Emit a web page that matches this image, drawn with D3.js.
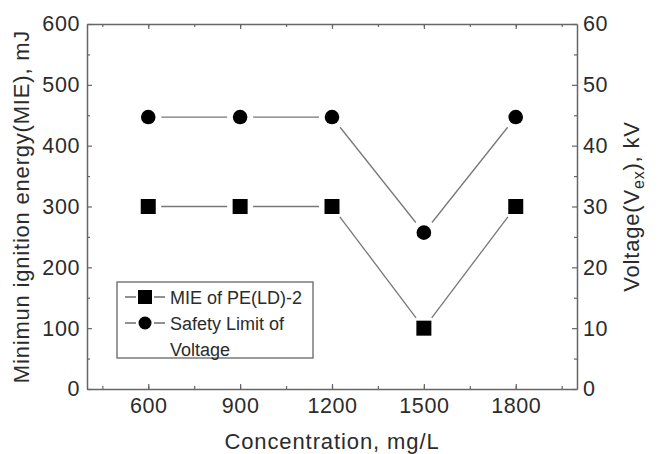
<!DOCTYPE html>
<html>
<head>
<meta charset="utf-8">
<script src="https://cdn.jsdelivr.net/npm/d3@7"></script>
<style>
  body { margin: 0; background: #fff; }
  text { font-family: "Liberation Sans", Arial, sans-serif; fill: #2b2b2b; }
</style>
</head>
<body>
<svg id="chart"></svg>
<script>
// data
const concentrations = [600, 900, 1200, 1500, 1800];
const mieValues = [300, 300, 300, 100, 300];          // mJ, left axis
const voltageValues = [44.7, 44.7, 44.7, 25.7, 44.7]; // kV, right axis
const xTicks = [600, 900, 1200, 1500, 1800];
const leftTicks = [0, 100, 200, 300, 400, 500, 600];
const rightTicks = [0, 10, 20, 30, 40, 50, 60];
const legendLabels = ["MIE of PE(LD)-2", ["Safety Limit of", "Voltage"]];

const width = 659, height = 454;
const plot = { left: 87, right: 577, top: 24, bottom: 389 };
const axisColor = "#666";
const lineColor = "#777";

const svg = d3.select("#chart")
    .attr("width", width)
    .attr("height", height);

const x = d3.scaleLinear().domain([400, 2000]).range([plot.left, plot.right]);
const yL = d3.scaleLinear().domain([0, 600]).range([plot.bottom, plot.top]);
const yR = d3.scaleLinear().domain([0, 60]).range([plot.bottom, plot.top]);
const fmt = d3.format("d");

function styleAxis(g) {
    g.selectAll(".domain").attr("stroke", axisColor).attr("stroke-width", 1.5);
    g.selectAll(".tick line").attr("stroke", axisColor).attr("stroke-width", 1.2);
    g.selectAll(".tick text").attr("font-size", 21.5).attr("fill", "#2b2b2b")
        .attr("letter-spacing", 0.6)
        .style("font-family", "'Liberation Sans', Arial, sans-serif");
}

const minorX = d3.range(450, 2000, 150);
const minorL = d3.range(50, 600, 100);
const minorR = d3.range(5, 60, 10);

// minor ticks (inward)
svg.append("g").attr("transform", `translate(0,${plot.bottom})`)
    .call(d3.axisBottom(x).tickValues(minorX).tickFormat("").tickSize(-3))
    .call(g => g.select(".domain").remove()).call(styleAxis);
svg.append("g").attr("transform", `translate(0,${plot.top})`)
    .call(d3.axisTop(x).tickValues(minorX).tickFormat("").tickSize(-3))
    .call(g => g.select(".domain").remove()).call(styleAxis);
svg.append("g").attr("transform", `translate(${plot.left},0)`)
    .call(d3.axisLeft(yL).tickValues(minorL).tickFormat("").tickSize(-3))
    .call(g => g.select(".domain").remove()).call(styleAxis);
svg.append("g").attr("transform", `translate(${plot.right},0)`)
    .call(d3.axisRight(yR).tickValues(minorR).tickFormat("").tickSize(-3))
    .call(g => g.select(".domain").remove()).call(styleAxis);

// major axes
svg.append("g").attr("transform", `translate(0,${plot.bottom})`)
    .call(d3.axisBottom(x).tickValues(xTicks).tickFormat(fmt).tickSize(-5).tickSizeOuter(0).tickPadding(9))
    .call(styleAxis);
svg.append("g").attr("transform", `translate(0,${plot.top})`)
    .call(d3.axisTop(x).tickValues(xTicks).tickFormat("").tickSize(-5).tickSizeOuter(0))
    .call(styleAxis);
svg.append("g").attr("transform", `translate(${plot.left},0)`)
    .call(d3.axisLeft(yL).tickValues(leftTicks).tickFormat(fmt).tickSize(-5).tickSizeOuter(0).tickPadding(7))
    .call(styleAxis);
svg.append("g").attr("transform", `translate(${plot.right},0)`)
    .call(d3.axisRight(yR).tickValues(rightTicks).tickFormat(fmt).tickSize(-5).tickSizeOuter(0).tickPadding(6))
    .call(styleAxis);

// axis titles
svg.append("text")
    .attr("x", (plot.left + plot.right) / 2).attr("y", 448.5)
    .attr("text-anchor", "middle").attr("font-size", 22).attr("letter-spacing", 0.9)
    .text("Concentration, mg/L");

svg.append("text")
    .attr("transform", `translate(29,${(plot.top + plot.bottom) / 2}) rotate(-90)`)
    .attr("text-anchor", "middle").attr("font-size", 22).attr("letter-spacing", 0.8)
    .text("Minimun ignition energy(MIE), mJ");

const rt = svg.append("text")
    .attr("transform", `translate(639,${(plot.top + plot.bottom) / 2}) rotate(-90)`)
    .attr("text-anchor", "middle").attr("font-size", 22).attr("letter-spacing", 0.8);
rt.append("tspan").text("Voltage(V");
rt.append("tspan").attr("font-size", 16).attr("dy", 5).text("ex");
rt.append("tspan").attr("dy", -5).text("), kV");

// lines with small gaps at the markers
function gappedSegments(xs, ys, gap) {
    const segs = [];
    for (let i = 0; i < xs.length - 1; i++) {
        const x1 = xs[i], y1 = ys[i], x2 = xs[i + 1], y2 = ys[i + 1];
        const len = Math.hypot(x2 - x1, y2 - y1);
        const ux = (x2 - x1) / len, uy = (y2 - y1) / len;
        segs.push([x1 + ux * gap, y1 + uy * gap, x2 - ux * gap, y2 - uy * gap]);
    }
    return segs;
}

const mieX = concentrations.map(d => x(d)), mieY = mieValues.map(d => yL(d));
const vX = concentrations.map(d => x(d)), vY = voltageValues.map(d => yR(d));

svg.append("g").selectAll("line")
    .data(gappedSegments(mieX, mieY, 13).concat(gappedSegments(vX, vY, 13)))
    .join("line")
    .attr("x1", d => d[0]).attr("y1", d => d[1])
    .attr("x2", d => d[2]).attr("y2", d => d[3])
    .attr("stroke", lineColor).attr("stroke-width", 1.3);

const sq = 15;
svg.append("g").selectAll("rect")
    .data(concentrations.map((c, i) => [c, mieValues[i]]))
    .join("rect")
    .attr("x", d => x(d[0]) - sq / 2).attr("y", d => yL(d[1]) - sq / 2)
    .attr("width", sq).attr("height", sq).attr("fill", "#000");

svg.append("g").selectAll("circle")
    .data(concentrations.map((c, i) => [c, voltageValues[i]]))
    .join("circle")
    .attr("cx", d => x(d[0])).attr("cy", d => yR(d[1]))
    .attr("r", 7.3).attr("fill", "#000");

// legend
const lg = svg.append("g");
lg.append("rect")
    .attr("x", 117).attr("y", 282).attr("width", 196).attr("height", 76)
    .attr("fill", "#fff").attr("stroke", axisColor).attr("stroke-width", 1.3);

const legendRows = [297, 323];
legendRows.forEach((ly, i) => {
    lg.append("line").attr("x1", 125).attr("x2", 136).attr("y1", ly).attr("y2", ly)
        .attr("stroke", "#555").attr("stroke-width", 1.3);
    lg.append("line").attr("x1", 154).attr("x2", 165).attr("y1", ly).attr("y2", ly)
        .attr("stroke", "#555").attr("stroke-width", 1.3);
    if (i === 0) {
        lg.append("rect").attr("x", 145 - 7).attr("y", ly - 7).attr("width", 14).attr("height", 14).attr("fill", "#000");
    } else {
        lg.append("circle").attr("cx", 145).attr("cy", ly).attr("r", 6.5).attr("fill", "#000");
    }
    const lab = legendLabels[i];
    const t = lg.append("text").attr("x", 170).attr("y", ly + 6.5).attr("font-size", 18);
    if (Array.isArray(lab)) {
        t.text(lab[0]);
        lg.append("text").attr("x", 170).attr("y", ly + 6.5 + 26).attr("font-size", 18).text(lab[1]);
    } else {
        t.text(lab);
    }
});
</script>
</body>
</html>
